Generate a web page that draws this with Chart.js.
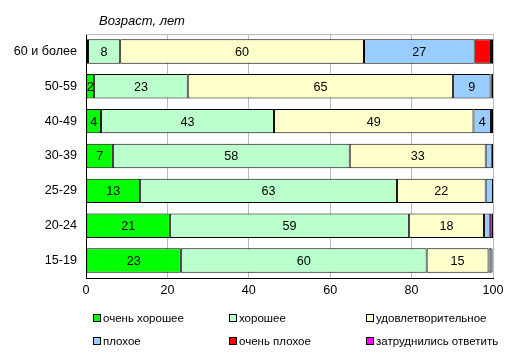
<!DOCTYPE html>
<html><head><meta charset="utf-8">
<script src="https://cdn.jsdelivr.net/npm/chart.js@4.4.0/dist/chart.umd.min.js"></script>
<style>html,body{margin:0;padding:0;background:#fff}#wrap{width:512px;height:355px;position:relative}</style>
</head><body><div id="wrap"><canvas id="c" width="512" height="355"></canvas></div>
<script>
const categories = ["60 и более","50-59","40-49","30-39","25-29","20-24","15-19"];
const seriesNames = ["очень хорошее","хорошее","удовлетворительное","плохое","очень плохое","затруднились ответить"];
const veryGood  = [0.5, 2,    3.7,  6.6,  13.3, 20.6, 23.3];
const good      = [7.9, 23,   42.5, 58.2, 63.1, 58.8, 60.4];
const satisf    = [59.9,65.2, 49,   33.4, 21.8, 18.4, 15.2];
const bad       = [27.2,9.2,  4.3,  1.5,  1.8,  1.4,  0.7];
const veryBad   = [4,   0.3,  0,    0.3,  0,    0,    0];
const noAnswer  = [0.5, 0.3,  0.5,  0,    0,    0.8,  0.3];
const xTicks = [0,20,40,60,80,100];
const axisTitle = "Возраст, лет";

const colors = ["#00FF00","#BBFFCC","#FFFFCC","#99CCFF","#FF0000","#FF00FF"];
const allSeries = [veryGood, good, satisf, bad, veryBad, noAnswer];
const FONT = '"Liberation Sans", Arial, sans-serif';

const extras = {
  id: 'extras',
  afterDatasetsDraw(chart) {
    const ctx = chart.ctx;
    const a = chart.chartArea;
    ctx.save();
    ctx.strokeStyle = '#BBBBBB'; ctx.lineWidth = 1;
    ctx.beginPath(); ctx.moveTo(a.left, a.top + 0.5); ctx.lineTo(a.right, a.top + 0.5); ctx.stroke();
    ctx.fillStyle = '#000'; ctx.font = '12.6px ' + FONT;
    ctx.textAlign = 'center'; ctx.textBaseline = 'middle';
    for (let d = 0; d < 4; d++) {
      const meta = chart.getDatasetMeta(d);
      meta.data.forEach((el, i) => {
        const v = chart.data.datasets[d].data[i];
        if (v >= 1.95) ctx.fillText(String(Math.round(v)), (el.x + el.base) / 2, el.y + 1);
      });
    }
    ctx.font = 'italic 13px ' + FONT; ctx.textAlign = 'left';
    ctx.fillText(axisTitle, a.left + 13, a.top - 13);
    const colX = [94, 230, 367];
    const rowY = [318, 341];
    ctx.font = '11.5px ' + FONT;
    seriesNames.forEach((n, k) => {
      const x = colX[k % 3], y = rowY[Math.floor(k / 3)];
      ctx.fillStyle = colors[k];
      ctx.fillRect(x, y - 3, 6, 6);
      ctx.strokeStyle = '#000'; ctx.lineWidth = 1;
      ctx.strokeRect(x - 0.5, y - 3.5, 7, 7);
      ctx.fillStyle = '#000';
      ctx.fillText(n, x + 9, y + 1);
    });
    ctx.restore();
  }
};

new Chart(document.getElementById('c'), {
  type: 'bar',
  data: {
    labels: categories,
    datasets: allSeries.map((s, k) => ({
      label: seriesNames[k], data: s, backgroundColor: colors[k],
      borderColor: '#000', borderWidth: 1, borderSkipped: false,
      barPercentage: 0.7, categoryPercentage: 1
    }))
  },
  options: {
    indexAxis: 'y', responsive: false, animation: false,
    layout: { padding: { top: 34, right: 19, bottom: 55, left: 0 } },
    plugins: { legend: { display: false }, tooltip: { enabled: false } },
    scales: {
      x: {
        stacked: true, min: 0, max: 100,
        afterBuildTicks: (s) => { s.ticks = xTicks.map(v => ({ value: v })); },
        afterFit: (s) => { s.height = 22; },
        ticks: { color: '#000', font: { family: FONT, size: 12.6 }, padding: 5, maxRotation: 0 },
        grid: { color: '#BBBBBB', drawTicks: false },
        border: { color: '#000', width: 1 }
      },
      y: {
        stacked: true,
        afterFit: (s) => { s.width = 86; },
        ticks: { color: '#000', font: { family: FONT, size: 12.6 }, padding: 9 },
        grid: { display: false, drawTicks: false },
        border: { color: '#000', width: 1 }
      }
    }
  },
  plugins: [extras]
});
</script></body></html>
